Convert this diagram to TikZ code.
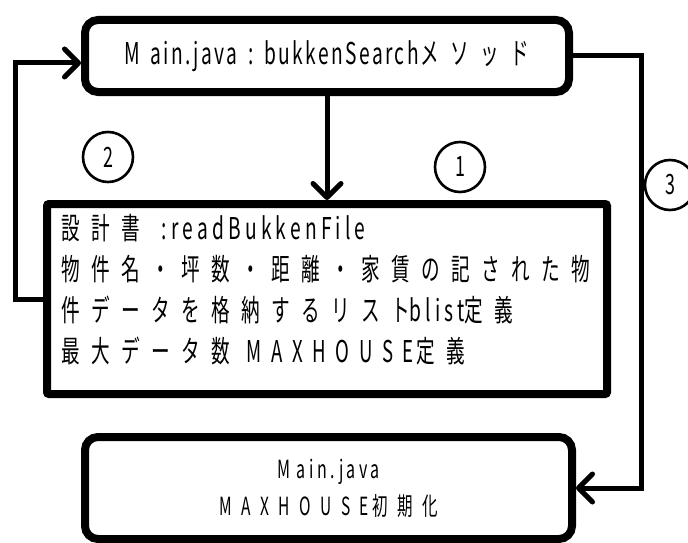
\documentclass[tikz,border=0pt]{standalone}
\usepackage{fontspec}
\usetikzlibrary{arrows.meta}
\newfontfamily\jf[FakeStretch=0.62,LetterSpace=38]{Noto Sans CJK JP}
\newfontfamily\lf[FakeStretch=0.64,LetterSpace=14]{Noto Sans CJK JP}
\newfontfamily\tf[FakeStretch=0.64,LetterSpace=8]{Noto Sans CJK JP}
\newfontfamily\mf[FakeStretch=0.62,LetterSpace=32]{Noto Sans CJK JP}
\newcommand\gapx[1]{\leavevmode\kern#1\relax}
\begin{document}
\begin{tikzpicture}[x=1pt,y=-1pt,
  boxr/.style={draw=black,line width=8pt,rounded corners=13pt,inner sep=0pt},
  boxs/.style={draw=black,line width=8pt,rounded corners=2pt,inner sep=0pt},
  conn/.style={draw=black,line width=5pt,line join=miter},
  arr/.style={-{Straight Barb[length=14pt,width=28pt,line cap=round,line join=round]}},
  numc/.style={circle,draw=black,line width=2.6pt,minimum size=50pt,inner sep=0pt,font=\lf\fontsize{28}{30}\selectfont}
]
\useasboundingbox (0,0) rectangle (688,543);
\node[boxr,minimum width=484pt,minimum height=72pt,font=\fontsize{30}{34}\selectfont] (top) at (327,56)
  {{\tf M}\gapx{10pt}{\tf ain.java}\gapx{11pt}{\tf :}\gapx{11pt}{\tf bukkenSearch}\gapx{2pt}{\jf メソッド}};
\node[boxs,minimum width=560pt,minimum height=190pt] (mid) at (327,299) {};
\node[anchor=north west,inner sep=0pt,align=left,font=\fontsize{30}{41}\selectfont] (midtxt) at (61,214)
  {{\jf 設計書}\gapx{22pt}{\lf :readBukkenFile}\\
   {\jf 物件名・坪数・距離・家賃の記された物}\\
   {\jf 件データを格納するリスト}{\lf blist}{\jf 定義}\\
   {\jf 最大データ数}\gapx{17pt}{\mf MAXHOUSE}\gapx{3pt}{\jf 定義}};
\node[boxr,minimum width=487pt,minimum height=102pt,align=center,font=\fontsize{25}{37}\selectfont] (bot) at (328.5,488)
  {{\lf M}\gapx{7pt}{\lf ain.java}\\{\jf MAXHOUSE}\gapx{3pt}{\jf 初期化}};
\node[numc] (n2) at (108,157) {2};
\node[numc] (n1) at (460,167) {1};
\node[numc] (n3) at (670,185) {3};
\coordinate (c2) at (15,63);
\coordinate (c3) at (641,56);
\draw[conn,arr] (top.south) -- (mid.north);
\draw[conn,arr] (mid.west) -| (c2) -- (c2 -| top.west);
\draw[conn,arr] (top.east) -- (c3) |- (bot.east);
\end{tikzpicture}
\end{document}
